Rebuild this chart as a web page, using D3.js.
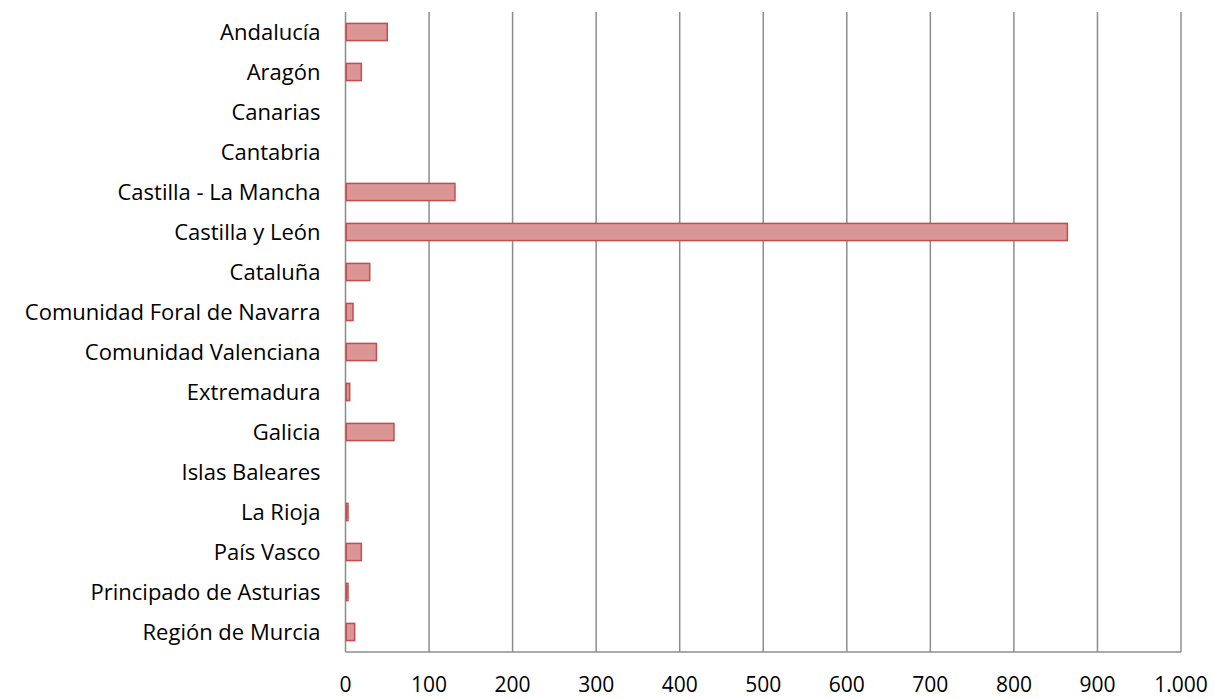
<!DOCTYPE html>
<html>
<head>
<meta charset="utf-8">
<script src="https://cdn.jsdelivr.net/npm/d3@7"></script>
<style>
  body { margin: 0; background: #fff; }
  svg text { font-family: "Open Sans", sans-serif; fill: #000; }
</style>
</head>
<body>
<svg id="chart" width="1214" height="699"></svg>
<script>
"use strict";

const regions = [
    "Andalucía", "Aragón", "Canarias", "Cantabria", "Castilla - La Mancha",
    "Castilla y León", "Cataluña", "Comunidad Foral de Navarra",
    "Comunidad Valenciana", "Extremadura", "Galicia", "Islas Baleares",
    "La Rioja", "País Vasco", "Principado de Asturias", "Región de Murcia"
];
const values = [50, 19, 0, 0, 131, 864, 29, 9, 37, 5, 58, 0, 3, 19, 3, 11];
const ticks = [0, 100, 200, 300, 400, 500, 600, 700, 800, 900, 1000];

const svg = d3.select("#chart");
const margin = {left: 345.5, right: 33, top: 12, bottom: 47};
const width = 1214, height = 699;

const x = d3.scaleLinear().domain([0, 1000]).range([margin.left, width - margin.right]);
const y = d3.scaleBand().domain(regions).range([margin.top, height - margin.bottom]).paddingInner(0.57).paddingOuter(0.285);

const fmt = d => d3.format(",")(d).replace(/,/g, ".");

const rows = regions.map((r, i) => ({region: r, value: values[i]}));

// grid lines
svg.append("g").selectAll("line").data(ticks).join("line")
    .attr("x1", d => x(d)).attr("x2", d => x(d))
    .attr("y1", margin.top).attr("y2", height - margin.bottom)
    .attr("stroke", "#8c8c8c").attr("stroke-width", 1.5);

// bottom axis line
svg.append("line")
    .attr("x1", x(0)).attr("x2", x(1000))
    .attr("y1", height - margin.bottom).attr("y2", height - margin.bottom)
    .attr("stroke", "#8c8c8c").attr("stroke-width", 1.5);

// bars
svg.append("g").selectAll("rect").data(rows.filter(d => d.value > 0)).join("rect")
    .attr("x", x(0) + 0.75)
    .attr("y", d => y(d.region))
    .attr("height", y.bandwidth())
    .attr("width", d => x(d.value) - x(0) - 0.75)
    .attr("fill", "#d99694")
    .attr("stroke", "#c0504d")
    .attr("stroke-width", 1.5);

// category labels
svg.append("g").selectAll("text").data(regions).join("text")
    .attr("x", margin.left - 25)
    .attr("y", d => y(d) + y.bandwidth() / 2)
    .attr("dy", "0.37em")
    .attr("text-anchor", "end")
    .style("font-size", "22px")
    .text(d => d);

// tick labels
svg.append("g").selectAll("text").data(ticks).join("text")
    .attr("x", d => x(d))
    .attr("y", height - margin.bottom + 40)
    .attr("text-anchor", "middle")
    .style("font-size", "21px")
    .text(d => fmt(d));
</script>
</body>
</html>
